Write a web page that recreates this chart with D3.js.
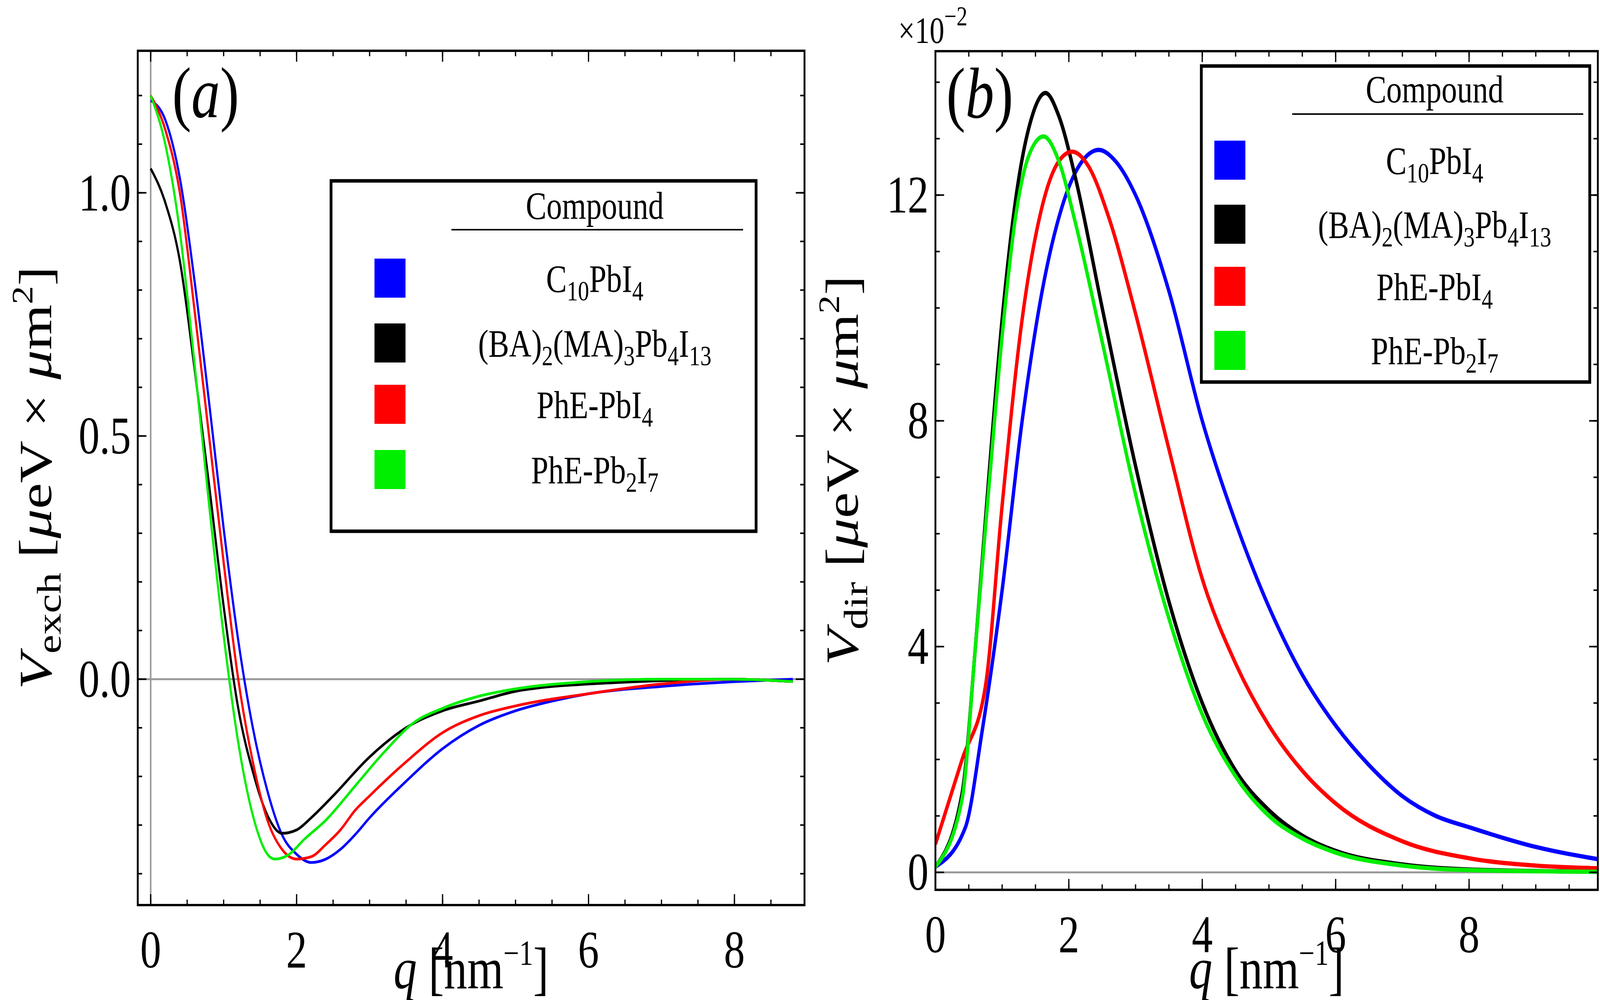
<!DOCTYPE html>
<html><head><meta charset="utf-8">
<script src="https://cdn.jsdelivr.net/npm/d3@7"></script>
<style>html,body{margin:0;padding:0;background:#fff;overflow:hidden}svg{display:block;width:100vw;height:100vh}text{font-family:"Liberation Serif","DejaVu Serif",serif;fill:#000}</style>
</head><body><svg id="chart" viewBox="0 0 5157 2560" preserveAspectRatio="none"></svg>
<script>
const compounds = ["C10PbI4", "(BA)2(MA)3Pb4I13", "PhE-PbI4", "PhE-Pb2I7"];
const colors = ["#0000ff", "#000000", "#ff0000", "#00ee00"];

// panel (a): V_exch vs q
const exchBlue = [[0,1.19],[0.2,1.15],[0.4,1.03],[0.6,0.82],[0.8,0.57],[1.0,0.31],[1.2,0.08],[1.4,-0.1],[1.6,-0.23],[1.8,-0.32],[2.0,-0.36],[2.2,-0.377],[2.4,-0.37],[2.6,-0.35],[2.8,-0.32],[3.0,-0.285],[3.5,-0.21],[4.0,-0.143],[4.5,-0.095],[5.0,-0.065],[5.5,-0.045],[6.0,-0.03],[7.0,-0.015],[8.0,-0.005],[8.8,0]];
const exchBlack = [[0,1.05],[0.2,0.98],[0.4,0.86],[0.6,0.64],[0.8,0.4],[1.0,0.15],[1.2,-0.06],[1.4,-0.19],[1.6,-0.28],[1.8,-0.317],[2.0,-0.31],[2.2,-0.285],[2.5,-0.24],[3.0,-0.16],[3.5,-0.1],[4.0,-0.065],[4.5,-0.045],[5.0,-0.025],[5.5,-0.015],[6.0,-0.01],[7.0,-0.003],[8.0,0],[8.8,-0.005]];
const exchRed = [[0,1.2],[0.2,1.13],[0.4,1.0],[0.6,0.76],[0.8,0.5],[1.0,0.24],[1.2,0.0],[1.4,-0.17],[1.6,-0.29],[1.8,-0.35],[2.0,-0.37],[2.2,-0.365],[2.4,-0.34],[2.6,-0.31],[2.8,-0.27],[3.0,-0.24],[3.5,-0.17],[4.0,-0.11],[4.5,-0.075],[5.0,-0.055],[6.0,-0.03],[7.0,-0.01],[8.0,0],[8.8,-0.005]];
const exchGreen = [[0,1.2],[0.2,1.1],[0.4,0.92],[0.6,0.65],[0.8,0.36],[1.0,0.09],[1.2,-0.13],[1.4,-0.28],[1.6,-0.36],[1.7,-0.37],[1.9,-0.36],[2.1,-0.33],[2.4,-0.29],[2.8,-0.22],[3.2,-0.15],[3.6,-0.09],[4.0,-0.06],[4.5,-0.035],[5.0,-0.02],[6.0,-0.005],[7.0,0],[8.0,0],[8.8,-0.005]];

// panel (b): V_dir (x10^-2) vs q
const dirBlue = [[0,0.1],[0.45,0.8],[0.7,2.5],[1.0,5.0],[1.3,8.0],[1.6,10.3],[1.9,11.8],[2.2,12.6],[2.45,12.8],[2.7,12.6],[3.0,12.0],[3.5,10.3],[4.0,8.0],[4.5,6.2],[5.0,4.7],[5.5,3.5],[6.0,2.6],[6.5,1.9],[7.0,1.35],[7.5,1.0],[8.0,0.8],[9.0,0.45],[10.0,0.22]];
const dirBlack = [[0,0.1],[0.4,1.4],[0.6,4.0],[0.8,7.0],[1.0,9.8],[1.2,11.9],[1.45,13.4],[1.65,13.81],[1.85,13.4],[2.1,12.3],[2.5,10.0],[3.0,7.2],[3.5,4.8],[4.0,3.0],[4.5,1.8],[5.0,1.1],[5.5,0.65],[6.0,0.38],[7.0,0.14],[8.0,0.05],[10.0,0.01]];
const dirRed = [[0,0.5],[0.4,2.0],[0.75,3.3],[1.0,6.5],[1.3,9.8],[1.6,11.8],[1.85,12.6],[2.05,12.77],[2.3,12.5],[2.6,11.6],[3.0,9.9],[3.5,7.5],[4.0,5.2],[4.5,3.7],[5.0,2.6],[5.5,1.8],[6.0,1.22],[7.0,0.55],[8.0,0.25],[9.0,0.12],[10.0,0.07]];
const dirGreen = [[0,0.1],[0.4,1.3],[0.6,4.0],[0.8,6.8],[1.0,9.5],[1.2,11.6],[1.4,12.7],[1.62,13.04],[1.85,12.6],[2.1,11.5],[2.5,9.4],[3.0,6.7],[3.5,4.5],[4.0,2.8],[4.5,1.7],[5.0,1.0],[5.5,0.6],[6.0,0.35],[7.0,0.12],[8.0,0.04],[10.0,0.01]];

const xTicksA = [0,2,4,6,8], yTicksA = [0,0.5,1.0];
const xTicksB = [0,2,4,6,8], yTicksB = [0,4,8,12];

const svg = d3.select("#chart");

function panel(o) {
  const x = d3.scaleLinear().domain(o.xd).range([o.l, o.r]);
  const y = d3.scaleLinear().domain(o.yd).range([o.b, o.t]);
  const g = svg.append("g");
  // zero lines
  g.append("line").attr("x1", o.l).attr("x2", o.r).attr("y1", y(0)).attr("y2", y(0))
    .attr("stroke", "#999").attr("stroke-width", 5);
  if (o.vzero) g.append("line").attr("x1", x(0)).attr("x2", x(0)).attr("y1", o.t).attr("y2", o.b)
    .attr("stroke", "#999").attr("stroke-width", 5);
  const clip = "clip" + o.name;
  svg.append("clipPath").attr("id", clip).append("rect")
    .attr("x", o.l).attr("y", o.t).attr("width", o.r - o.l).attr("height", o.b - o.t);
  const line = d3.line().x(d => x(d[0])).y(d => y(d[1])).curve(d3.curveMonotoneX);
  o.series.forEach((s, i) => {
    g.append("path").attr("d", line(s)).attr("fill", "none").attr("stroke", colors[i])
      .attr("stroke-width", o.lw).attr("clip-path", `url(#${clip})`);
  });
  // ticks (inward, all sides)
  const tk = (sel, vals, len, sc, horiz) => vals.forEach(v => {
    const p = sc(v);
    if (horiz) {
      sel.append("line").attr("x1", p).attr("x2", p).attr("y1", o.b).attr("y2", o.b - len);
      sel.append("line").attr("x1", p).attr("x2", p).attr("y1", o.t).attr("y2", o.t + len);
    } else {
      sel.append("line").attr("y1", p).attr("y2", p).attr("x1", o.l).attr("x2", o.l + len);
      sel.append("line").attr("y1", p).attr("y2", p).attr("x1", o.r).attr("x2", o.r - len);
    }
  });
  const tg = g.append("g").attr("stroke", "#000").attr("stroke-width", 4);
  tk(tg, d3.range(0, o.xd[1], o.xminor).filter(v => v >= o.xd[0]), 14, x, true);
  tk(tg, d3.range(Math.ceil(o.yd[0] / o.yminor) * o.yminor, o.yd[1], o.yminor), 14, y, false);
  tk(tg, o.xt, 28, x, true);
  tk(tg, o.yt, 28, y, false);
  g.append("rect").attr("x", o.l).attr("y", o.t).attr("width", o.r - o.l).attr("height", o.b - o.t)
    .attr("fill", "none").attr("stroke", "#000").attr("stroke-width", 6);
  o.xt.forEach(v => g.append("text").attr("x", x(v)).attr("y", o.b + 160).attr("text-anchor", "middle")
    .attr("font-size", 135).text(v));
  o.yt.forEach(v => g.append("text").attr("x", o.l - 22).attr("y", y(v) + 45).attr("text-anchor", "end")
    .attr("font-size", 135).text(o.yfmt(v)));
  // x label
  const xl = g.append("text").attr("x", (o.l + o.r) / 2).attr("y", 2530).attr("text-anchor", "middle").attr("font-size", 150);
  xl.append("tspan").attr("font-style", "italic").text("q");
  xl.append("tspan").text(" [nm");
  xl.append("tspan").attr("font-size", 90).attr("dy", -60).text("−1");
  xl.append("tspan").attr("dy", 60).text("]");
  // y label
  const yl = g.append("text").attr("transform", `translate(${o.ylx},${(o.t + o.b) / 2}) rotate(-90)`)
    .attr("text-anchor", "middle").attr("font-size", 150);
  yl.append("tspan").attr("font-style", "italic").text("V");
  yl.append("tspan").attr("font-size", 110).attr("dy", 30).text(o.sub);
  yl.append("tspan").attr("dy", -30).text(" [");
  yl.append("tspan").attr("font-style", "italic").text("μ");
  yl.append("tspan").text("eV × ");
  yl.append("tspan").attr("font-style", "italic").text("μ");
  yl.append("tspan").text("m");
  yl.append("tspan").attr("font-size", 95).attr("dy", -60).text("2");
  yl.append("tspan").attr("dy", 60).text("]");
  // panel tag
  const tag = g.append("text").attr("x", o.tagx).attr("y", o.t + 170).attr("font-size", 185);
  tag.append("tspan").text("(");
  tag.append("tspan").attr("font-style", "italic").text(o.name);
  tag.append("tspan").text(")");
  // legend
  const L = o.leg;
  g.append("rect").attr("x", L.x).attr("y", L.y).attr("width", L.w).attr("height", L.h)
    .attr("fill", "#fff").attr("stroke", "#000").attr("stroke-width", 9);
  g.append("text").attr("x", L.cx).attr("y", L.hy).attr("text-anchor", "middle").attr("font-size", 100).text("Compound");
  g.append("line").attr("x1", L.ux1).attr("x2", L.ux2).attr("y1", L.uy).attr("y2", L.uy).attr("stroke", "#000").attr("stroke-width", 4);
  const labels = [
    [["C"], ["10", 1], ["PbI"], ["4", 1]],
    [["(BA)"], ["2", 1], ["(MA)"], ["3", 1], ["Pb"], ["4", 1], ["I"], ["13", 1]],
    [["PhE-PbI"], ["4", 1]],
    [["PhE-Pb"], ["2", 1], ["I"], ["7", 1]]
  ];
  L.rows.forEach((ry, i) => {
    g.append("rect").attr("x", L.sx).attr("y", ry - 50).attr("width", 100).attr("height", 100).attr("fill", colors[i]);
    const t = g.append("text").attr("x", L.cx).attr("y", ry + 35).attr("text-anchor", "middle").attr("font-size", 100);
    let sub = false;
    labels[i].forEach(([s, isSub]) => {
      const ts = t.append("tspan").text(s);
      if (isSub && !sub) { ts.attr("dy", 22).attr("font-size", 72); sub = true; }
      else if (isSub) ts.attr("font-size", 72);
      else if (sub) { ts.attr("dy", -22); sub = false; }
    });
  });
}

panel({
  name: "a", l: 444, r: 2593, t: 130, b: 2317, xd: [-0.177, 8.96], yd: [-0.4645, 1.292],
  xt: xTicksA, yt: yTicksA, xminor: 0.5, yminor: 0.1, lw: 7, vzero: true,
  yfmt: v => v.toFixed(1), series: [exchBlue, exchBlack, exchRed, exchGreen],
  ylx: 165, sub: "exch", tagx: 555,
  leg: { x: 1067, y: 463, w: 1370, h: 897, cx: 1917, hy: 560, ux1: 1455, ux2: 2395, uy: 588,
         sx: 1207, rows: [712, 878, 1035, 1202] }
});
panel({
  name: "b", l: 3015, r: 5150, t: 131, b: 2278, xd: [0, 9.93], yd: [-0.31, 14.55],
  xt: xTicksB, yt: yTicksB, xminor: 0.5, yminor: 1, lw: 11, vzero: false,
  yfmt: v => v, series: [dirBlue, dirBlack, dirRed, dirGreen],
  ylx: 2765, sub: "dir", tagx: 3050,
  leg: { x: 3872, y: 169, w: 1252, h: 809, cx: 4624, hy: 262, ux1: 4165, ux2: 5103, uy: 292,
         sx: 3914, rows: [410, 574, 733, 897] }
});
// x10^-2 multiplier
const m = svg.append("text").attr("x", 2895).attr("y", 110).attr("font-size", 95);
m.append("tspan").text("×10");
m.append("tspan").attr("font-size", 70).attr("dy", -45).text("−2");
</script></body></html>
